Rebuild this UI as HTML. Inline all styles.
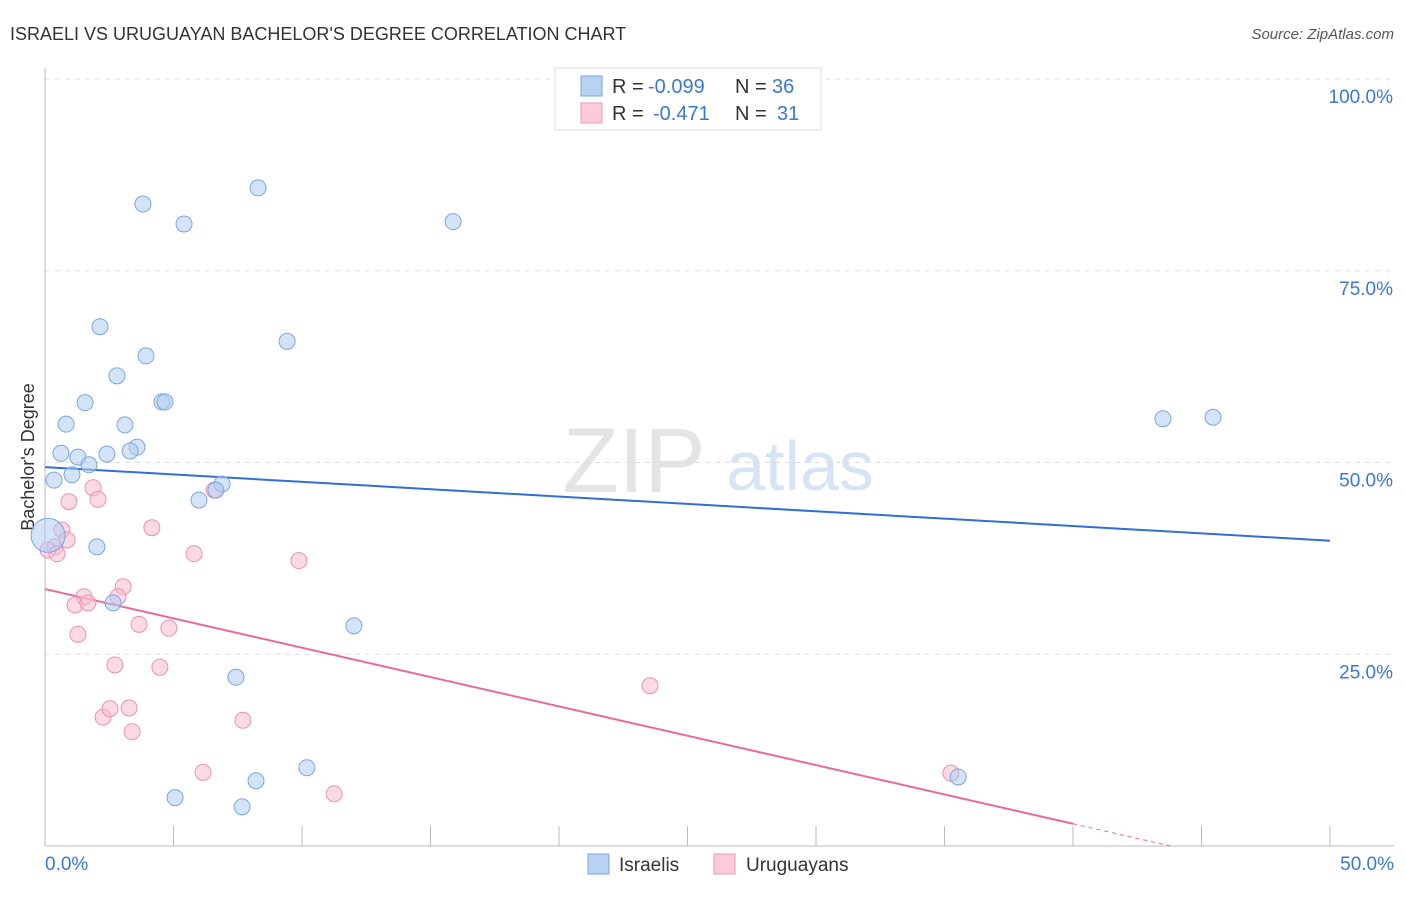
<!DOCTYPE html>
<html><head><meta charset="utf-8"><style>
body{margin:0;background:#fff;font-family:"Liberation Sans",sans-serif;}
svg text{font-family:"Liberation Sans",sans-serif;}
</style></head><body>
<svg id="chart" width="1406" height="892">
<text x="10" y="40" font-size="18" fill="#333">ISRAELI VS URUGUAYAN BACHELOR'S DEGREE CORRELATION CHART</text>
<text x="1394" y="39" font-size="15" fill="#555" font-style="italic" text-anchor="end">Source: ZipAtlas.com</text>
<text x="634" y="492" font-size="92" fill="#e4e4e4" font-family="Liberation Serif" text-anchor="middle">ZIP</text>
<text x="800" y="490" font-size="70" fill="#d6e4f5" text-anchor="middle">atlas</text>
<text transform="translate(34,457) rotate(-90)" font-size="18" fill="#333" text-anchor="middle">Bachelor's Degree</text>
<g id="grid"></g><g id="axes"></g><g id="trend"></g><g id="points"></g>
<g>
<rect x="555" y="68" width="266" height="62" fill="#fff" stroke="#ddd"/>
<rect x="581" y="76" width="21" height="20" fill="#b8d2f3" stroke="#7aa6e0"/>
<text x="612" y="93" font-size="20" fill="#333">R = </text><text x="648" y="93" font-size="20" fill="#3a78d4">-0.099</text>
<text x="735" y="93" font-size="20" fill="#333">N = </text><text x="772" y="93" font-size="20" fill="#3a78d4">36</text>
<rect x="581" y="103" width="21" height="20" fill="#fbcadb" stroke="#eb9ab5"/>
<text x="612" y="120" font-size="20" fill="#333">R = </text><text x="653" y="120" font-size="20" fill="#3a78d4">-0.471</text>
<text x="735" y="120" font-size="20" fill="#333">N = </text><text x="777" y="120" font-size="20" fill="#3a78d4">31</text>
</g>
<g>
<rect x="588" y="854" width="21" height="20" fill="#b8d2f3" stroke="#7aa6e0"/>
<text x="619" y="871" font-size="19" fill="#333">Israelis</text>
<rect x="714" y="854" width="21" height="20" fill="#fbcadb" stroke="#eb9ab5"/>
<text x="746" y="871" font-size="19" fill="#333">Uruguayans</text>
</g>
</svg>
<script>
const blueX=[3.81,5.41,8.29,15.88,2.14,3.93,9.42,2.80,1.56,4.55,4.67,0.82,3.11,3.58,0.62,1.28,2.41,3.31,1.71,0.35,1.05,6.89,5.99,6.65,2.02,2.65,12.02,7.43,10.19,8.21,5.06,7.67,35.53,43.5,45.45,0.12];
const blueY=[83.7,81.1,85.8,81.4,67.7,63.9,65.8,61.3,57.8,57.9,57.9,55.0,54.9,52.0,51.2,50.7,51.1,51.5,49.7,47.7,48.4,47.2,45.1,46.4,39.0,31.7,28.7,22.0,10.2,8.5,6.3,5.1,9.0,55.7,55.9,40.5];
const pinkX=[0.66,0.39,0.12,0.47,0.86,0.93,1.87,2.06,4.16,5.80,9.88,3.04,2.84,1.52,1.17,1.67,1.28,3.66,4.82,2.72,4.47,2.26,2.53,3.27,3.39,7.70,6.15,11.25,23.54,35.25,6.58];
const pinkY=[41.2,39.0,38.6,38.1,39.9,44.9,46.7,45.2,41.5,38.1,37.2,33.8,32.5,32.5,31.4,31.7,27.6,28.9,28.4,23.6,23.3,16.8,17.9,18.0,14.9,16.4,9.6,6.8,20.9,9.5,46.4];
const blueTrend=[49.4,39.8];
const pinkTrend=[33.5,-0.765];
const yTicks=[25,50,75,100];
const yTickLabels=["25.0%","50.0%","75.0%","100.0%"];
const NS="http://www.w3.org/2000/svg";
const X=v=>45+v*25.7, Y=v=>846-v*7.67;
function mk(t,a,p){const e=document.createElementNS(NS,t);for(const k in a)e.setAttribute(k,a[k]);document.getElementById(p).appendChild(e);return e;}
yTicks.forEach((t,i)=>{
 const g=mk('line',{x1:45,x2:1394,y1:Y(t),y2:Y(t),stroke:'#ddd','stroke-dasharray':'5,5'},'grid');
 
 
 const l=mk('text',{x:1393,y:Y(t)+24,'font-size':19,fill:'#3a78d4','text-anchor':'end'},'grid');
 l.textContent=yTickLabels[i];
 
 
});
let a=mk('line',{x1:45,x2:45,y1:68,y2:846,stroke:'#bbb'},'axes');


a=mk('line',{x1:45,x2:1394,y1:846,y2:846,stroke:'#bbb'},'axes');


for(let i=0;i<=10;i++){const t=mk('line',{x1:X(i*5),x2:X(i*5),y1:826,y2:846,stroke:'#bbb'},'axes');
 
 }
let xl=mk('text',{x:45,y:870,'font-size':19,fill:'#3a78d4'},'axes');xl.textContent='0.0%';


xl=mk('text',{x:1394,y:870,'font-size':19,fill:'#3a78d4','text-anchor':'end'},'axes');xl.textContent='50.0%';


function pts(xs,ys,fill,stroke,name){xs.forEach((x,i)=>{const big=(i===xs.length-1&&name==='israeli-point');
 const c=mk('circle',{cx:X(x),cy:Y(ys[i]),r:big?17:8,fill:fill,'fill-opacity':0.55,stroke:stroke,'stroke-width':1},'points');
 
 });}
pts(pinkX,pinkY,'#f8bcd0','#e893ae','uruguayan-point');
pts(blueX,blueY,'#b0cdf2','#7aa6e0','israeli-point');
let tl=mk('line',{x1:X(0),y1:Y(blueTrend[0]),x2:X(50),y2:Y(blueTrend[1]),stroke:'#2f6fd6','stroke-width':2},'trend');


const pe=40, pz=-pinkTrend[0]/pinkTrend[1];
tl=mk('line',{x1:X(0),y1:Y(pinkTrend[0]),x2:X(pe),y2:Y(pinkTrend[0]+pinkTrend[1]*pe),stroke:'#e8689a','stroke-width':2},'trend');


tl=mk('line',{x1:X(pe),y1:Y(pinkTrend[0]+pinkTrend[1]*pe),x2:X(pz),y2:Y(0),stroke:'#e8689a','stroke-width':1,'stroke-dasharray':'4,4'},'trend');


</script>
</body></html>
